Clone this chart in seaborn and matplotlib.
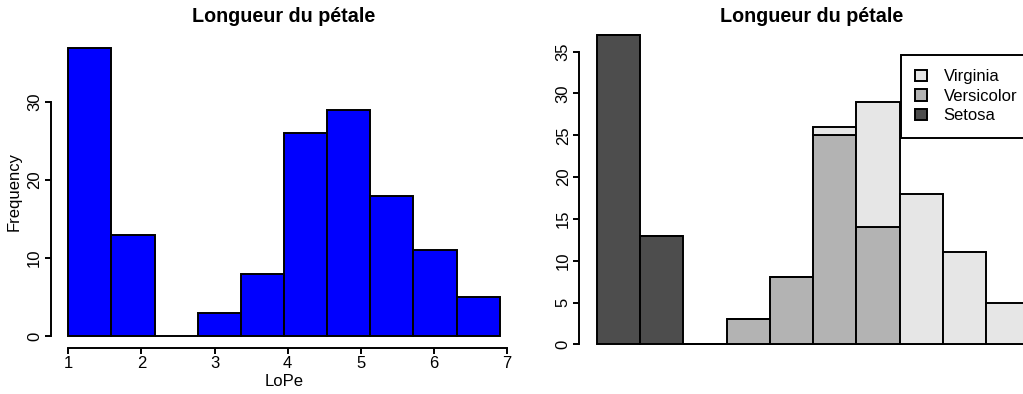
import matplotlib
matplotlib.use("Agg")
import matplotlib.pyplot as plt
import seaborn as sns
import pandas as pd
from matplotlib.patches import Patch

# Histogram of petal length (10 classes from 1.0 to 6.9)
bin_edges = [1.0, 1.59, 2.18, 2.77, 3.36, 3.95, 4.54, 5.13, 5.72, 6.31, 6.9]
counts_all = [37, 13, 0, 3, 8, 26, 29, 18, 11, 5]

# Same classes, split by species
species = ["Virginia", "Versicolor", "Setosa"]
setosa = [37, 13, 0, 0, 0, 0, 0, 0, 0, 0]
versicolor = [0, 0, 0, 3, 8, 25, 14, 0, 0, 0]
virginia = [0, 0, 0, 0, 0, 1, 15, 18, 11, 5]
species_colors = {"Virginia": "#E6E6E6", "Versicolor": "#B3B3B3", "Setosa": "#4D4D4D"}

title = "Longueur du pétale"

sns.set_style("white")
plt.rcParams["font.family"] = ["Liberation Sans", "DejaVu Sans"]
plt.rcParams["text.color"] = "black"
plt.rcParams["axes.labelcolor"] = "black"
plt.rcParams["xtick.color"] = "black"
plt.rcParams["ytick.color"] = "black"

W, H = 1023, 394
fig = plt.figure(figsize=(W / 100, H / 100), dpi=100)


def px_axes(x0, y0, x1, y1):
    return fig.add_axes([x0 / W, 1 - y1 / H, (x1 - x0) / W, (y1 - y0) / H])


LW = 1.4
FS = 12

# ---- left: plain histogram ----
ax1 = px_axes(51, 36, 517, 347.5)
centers = [(a + b) / 2 for a, b in zip(bin_edges[:-1], bin_edges[1:])]
sns.histplot(x=centers, weights=counts_all, bins=bin_edges, color="blue",
             alpha=1, edgecolor="black", linewidth=LW, ax=ax1)
ax1.set_xlim(0.764, 7.136)
ax1.set_ylim(-1.48, 38.48)
ax1.set_xticks([1, 2, 3, 4, 5, 6, 7])
ax1.set_yticks([0, 10, 20, 30])
ax1.spines["top"].set_visible(False)
ax1.spines["right"].set_visible(False)
ax1.spines["left"].set_bounds(0, 30)
ax1.spines["bottom"].set_bounds(1, 7)
ax1.set_xlabel("LoPe", fontsize=FS, color="black")
ax1.set_ylabel("Frequency", fontsize=FS, color="black")
ax1.yaxis.label.set_va("center")
ax1.xaxis.label.set_va("center")
ax1.yaxis.set_label_coords((14 - 51) / 466, 0.5)
ax1.xaxis.set_label_coords(0.5, (347.5 - 382) / 311.5)

# ---- right: stacked bars by species ----
ax2 = px_axes(579.4, 22.5, 1047, 359.9)
rows = []
for name, vals in zip(["Setosa", "Versicolor", "Virginia"], [setosa, versicolor, virginia]):
    for i, v in enumerate(vals):
        rows.append({"pos": i + 0.5, "count": v, "species": name})
df = pd.DataFrame(rows)
sns.histplot(data=df, x="pos", weights="count", hue="species", hue_order=species,
             multiple="stack", bins=list(range(11)), palette=species_colors,
             alpha=1, edgecolor="black", linewidth=LW, legend=False, ax=ax2)
ax2.set_xlim(-0.4, 10.4)
ax2.set_ylim(-1.86, 38.49)
ax2.set_yticks([0, 5, 10, 15, 20, 25, 30, 35])
ax2.set_xticks([])
ax2.set_xlabel("")
ax2.set_ylabel("")
for s in ["top", "right", "bottom"]:
    ax2.spines[s].set_visible(False)
ax2.spines["left"].set_bounds(0, 35)

for ax in (ax1, ax2):
    ax.spines["left"].set_linewidth(LW)
    ax.spines["bottom"].set_linewidth(LW)
    ax.spines["left"].set_color("black")
    ax.spines["bottom"].set_color("black")
    ax.tick_params(axis="both", length=4.3, width=LW, labelsize=FS, pad=2,
                   left=True, bottom=True, color="black", labelcolor="black")
    for lbl in ax.get_yticklabels():
        lbl.set_rotation(90)
        lbl.set_va("center")

handles = [Patch(facecolor=species_colors[s], edgecolor="black", linewidth=LW, label=s)
           for s in species]
leg = fig.legend(handles=handles, loc="upper left",
                 bbox_to_anchor=(900.7 / W, 1 - 55 / H), fontsize=FS,
                 frameon=True, fancybox=False, edgecolor="black", framealpha=1,
                 handlelength=0.72, handleheight=0.72, handletextpad=1.0,
                 borderpad=0.86, labelspacing=0.27, borderaxespad=0,
                 labelcolor="black")
leg.get_frame().set_linewidth(LW)

fig.text(284 / W, 1 - 16 / H, title, ha="center", va="center",
         fontsize=14.2, fontweight="bold", color="black")
fig.text(812 / W, 1 - 16 / H, title, ha="center", va="center",
         fontsize=14.2, fontweight="bold", color="black")

fig.savefig("out.png", dpi=100, facecolor="white")
